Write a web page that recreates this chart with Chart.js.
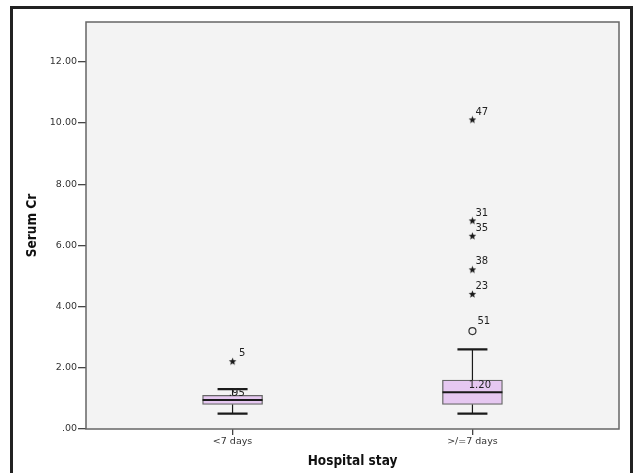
<!DOCTYPE html>
<html>
<head>
<meta charset="utf-8">
<script src="https://cdn.jsdelivr.net/npm/chart.js@4.4.1/dist/chart.umd.min.js"></script>
<style>
  html, body { margin: 0; padding: 0; background: #fff; }
  #wrap { width: 637px; height: 473px; }
</style>
</head>
<body>
<div id="wrap"><canvas id="box-chart" width="637" height="473"></canvas></div>
<script>
// data
const categories = ["<7 days", ">/=7 days"];
const q1 = [0.80, 0.80];
const median = [0.95, 1.20];
const q3 = [1.10, 1.60];
const whiskerLow = [0.50, 0.50];
const whiskerHigh = [1.30, 2.60];
const medianLabels = [".95", "1.20"];

// extreme values (stars) and outliers (circles), with case numbers
const starGroup = [0, 1, 1, 1, 1, 1];
const starValue = [2.2, 10.1, 6.8, 6.3, 5.2, 4.4];
const starCase = ["5", "47", "31", "35", "38", "23"];
const circleGroup = [1];
const circleValue = [3.2];
const circleCase = ["51"];

const yTicks = [0, 2, 4, 6, 8, 10, 12];
const yTickLabels = [".00", "2.00", "4.00", "6.00", "8.00", "10.00", "12.00"];

// small filled star used as point style
const starImg = document.createElement("canvas");
starImg.width = 9;
starImg.height = 9;
(() => {
  const c = starImg.getContext("2d");
  c.fillStyle = "#1a1a1a";
  c.beginPath();
  for (let i = 0; i < 10; i++) {
    const r = i % 2 === 0 ? 4 : 1.7;
    const a = -Math.PI / 2 + i * Math.PI / 5;
    const px = 4.5 + r * Math.cos(a);
    const py = 4.5 + r * Math.sin(a);
    if (i === 0) c.moveTo(px, py); else c.lineTo(px, py);
  }
  c.closePath();
  c.fill();
})();

const tickFont = { family: "'DejaVu Sans', sans-serif", size: 9.5 };
const titleFont = { family: "'DejaVu Sans Condensed', 'DejaVu Sans', sans-serif", size: 13.5, weight: "bold" };
const labelFont = "10px 'DejaVu Sans', sans-serif";

const framePlugin = {
  id: "frame",
  beforeDraw(chart) {
    const { ctx, chartArea: a } = chart;
    ctx.save();
    ctx.fillStyle = "#fff";
    ctx.fillRect(0, 0, chart.width, chart.height);
    ctx.strokeStyle = "#222";
    ctx.lineWidth = 3;
    ctx.strokeRect(11.5, 7.5, 620, 480);
    ctx.fillStyle = "#f3f3f3";
    ctx.fillRect(a.left, a.top, a.right - a.left, a.bottom - a.top);
    ctx.restore();
  },
  beforeDatasetsDraw(chart) {
    const { ctx, chartArea: a } = chart;
    ctx.save();
    ctx.strokeStyle = "#666";
    ctx.lineWidth = 1.5;
    ctx.strokeRect(a.left, a.top, a.right - a.left, a.bottom - a.top);
    ctx.restore();
  },
};

const boxPlugin = {
  id: "whiskers",
  afterDatasetsDraw(chart) {
    const { ctx, scales } = chart;
    const x = scales.x, y = scales.y;
    ctx.save();
    categories.forEach((cat, i) => {
      const cx = x.getPixelForValue(i);
      ctx.strokeStyle = "#1a1a1a";
      // stems
      ctx.lineWidth = 1.2;
      ctx.beginPath();
      ctx.moveTo(cx, y.getPixelForValue(q3[i]));
      ctx.lineTo(cx, y.getPixelForValue(whiskerHigh[i]));
      ctx.moveTo(cx, y.getPixelForValue(q1[i]));
      ctx.lineTo(cx, y.getPixelForValue(whiskerLow[i]));
      ctx.stroke();
      // caps
      ctx.lineWidth = 2.2;
      ctx.beginPath();
      [whiskerHigh[i], whiskerLow[i]].forEach((v) => {
        const py = y.getPixelForValue(v);
        ctx.moveTo(cx - 15, py);
        ctx.lineTo(cx + 15, py);
      });
      ctx.stroke();
      // median
      const my = y.getPixelForValue(median[i]);
      ctx.lineWidth = 2;
      ctx.beginPath();
      ctx.moveTo(cx - 30, my);
      ctx.lineTo(cx + 30, my);
      ctx.stroke();
      ctx.fillStyle = "#222";
      ctx.font = labelFont;
      ctx.textBaseline = "middle";
      ctx.textAlign = "left";
      ctx.fillText(medianLabels[i], cx - 3.7, my - 7);
    });

    // case numbers next to the extreme points
    ctx.fillStyle = "#222";
    ctx.font = labelFont;
    ctx.textBaseline = "middle";
    ctx.textAlign = "left";
    const starMeta = chart.getDatasetMeta(1);
    starMeta.data.forEach((pt, k) => {
      const dx = starGroup[k] === 0 ? 6.5 : 3;
      ctx.fillText(starCase[k], pt.x + dx, pt.y - 8);
    });
    const circMeta = chart.getDatasetMeta(2);
    circMeta.data.forEach((pt, k) => {
      ctx.fillText(circleCase[k], pt.x + 5, pt.y - 9.5);
    });
    ctx.restore();
  },
};

new Chart(document.getElementById("box-chart"), {
  data: {
    datasets: [
      {
        type: "bar",
        data: categories.map((c, i) => ({ x: i, y: [q1[i], q3[i]] })),
        backgroundColor: "#e6c8f1",
        borderColor: "#666",
        borderWidth: 1.3,
        borderSkipped: false,
        barThickness: 60,
      },
      {
        type: "scatter",
        data: starGroup.map((g, k) => ({ x: g, y: starValue[k] })),
        pointStyle: starImg,
        radius: 4,
      },
      {
        type: "scatter",
        data: circleGroup.map((g, k) => ({ x: g, y: circleValue[k] })),
        pointStyle: "circle",
        radius: 3.5,
        borderWidth: 1.2,
        borderColor: "#333",
        backgroundColor: "rgba(0,0,0,0)",
      },
    ],
  },
  options: {
    responsive: false,
    animation: false,
    events: [],
    layout: { padding: { left: 0, top: 22, right: 18, bottom: 0 } },
    plugins: { legend: { display: false }, tooltip: { enabled: false } },
    scales: {
      x: {
        type: "linear",
        offset: false,
        min: -0.611,
        max: 1.611,
        afterBuildTicks: (axis) => { axis.ticks = categories.map((c, i) => ({ value: i })); },
        afterFit: (scale) => { scale.height = 44; },
        ticks: {
          callback: (v) => categories[v],
          font: tickFont,
          color: "#333",
          padding: 1,
          maxRotation: 0,
        },
        grid: { offset: false, drawOnChartArea: false, drawTicks: true, tickLength: 6, color: "#444", lineWidth: 1.3 },
        border: { display: false },
        title: { display: true, text: "Hospital stay", font: titleFont, color: "#111", padding: { top: 0, bottom: 3 } },
      },
      y: {
        min: 0,
        max: 13.3,
        afterBuildTicks: (axis) => { axis.ticks = yTicks.map((v) => ({ value: v })); },
        afterFit: (scale) => { scale.width = 86; },
        ticks: {
          callback: (v, i) => yTickLabels[i],
          font: tickFont,
          color: "#333",
          padding: 1,
        },
        grid: { drawOnChartArea: false, drawTicks: true, tickLength: 8, color: "#444", lineWidth: 1.3 },
        border: { display: false },
        title: { display: true, text: "Serum Cr", font: titleFont, color: "#111", padding: { top: 24, bottom: 0 } },
      },
    },
  },
  plugins: [framePlugin, boxPlugin],
});
</script>
</body>
</html>
